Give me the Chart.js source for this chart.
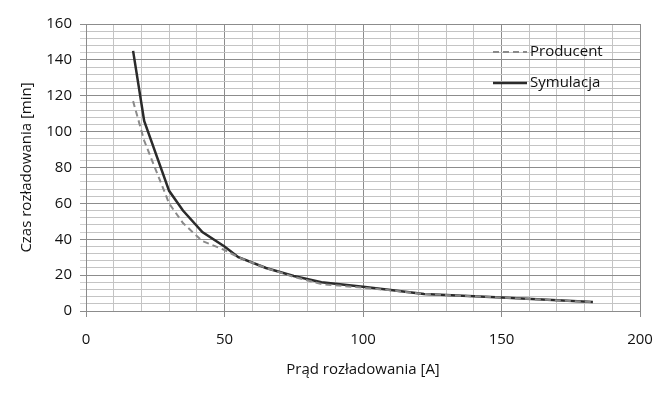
<!DOCTYPE html>
<html>
<head>
<meta charset="utf-8">
<script src="https://cdn.jsdelivr.net/npm/chart.js@4"></script>
<style>
  html, body { margin: 0; padding: 0; background: #fff; }
  #wrap { width: 667px; height: 397px; }
</style>
</head>
<body>
<div id="wrap"><canvas id="dischargeChart" width="667" height="397"></canvas></div>
<script>
const currentA = [17, 21, 30, 35, 42, 50, 55, 65, 75, 85, 100, 110, 122, 150, 183];
const producentMin = [117, 95, 60, 49, 39, 34, 30, 24, 19, 15, 13, 11.5, 9.5, 7.5, 5];
const symulacjaMin = [145, 106, 67, 56, 44, 36, 30, 24, 19.5, 16, 13.5, 11.7, 9.5, 7.5, 5];
const seriesNames = ['Producent', 'Symulacja'];

const font = 'Open Sans';
const toPoints = ys => currentA.map((x, i) => ({ x: x, y: ys[i] }));

// legend drawn inside the plot, on top of the grid (no box)
const innerLegend = {
  id: 'innerLegend',
  afterDraw(chart) {
    const c = chart.ctx;
    const a = chart.chartArea;
    c.save();
    c.font = '15px "' + font + '"';
    c.textBaseline = 'middle';
    chart.data.datasets.forEach((ds, i) => {
      const y = a.top + 28 + i * 31;
      const x0 = a.left + 407;
      c.strokeStyle = ds.borderColor;
      c.lineWidth = ds.borderWidth;
      c.setLineDash(ds.borderDash || []);
      c.beginPath();
      c.moveTo(x0, y);
      c.lineTo(x0 + 34, y);
      c.stroke();
      c.setLineDash([]);
      c.fillStyle = '#111';
      c.fillText(ds.label, x0 + 37, y);
    });
    c.restore();
  }
};

new Chart(document.getElementById('dischargeChart').getContext('2d'), {
  type: 'line',
  data: {
    datasets: [
      {
        label: seriesNames[0],
        data: toPoints(producentMin),
        borderColor: '#8a8a8a',
        borderWidth: 2,
        borderDash: [6, 4],
        pointRadius: 0,
        tension: 0
      },
      {
        label: seriesNames[1],
        data: toPoints(symulacjaMin),
        borderColor: '#2b2b2b',
        borderWidth: 2.5,
        pointRadius: 0,
        tension: 0
      }
    ]
  },
  options: {
    responsive: false,
    animation: false,
    layout: { padding: { left: 14, right: 27, top: 24, bottom: 14 } },
    plugins: { legend: { display: false }, tooltip: { enabled: false } },
    scales: {
      x: {
        type: 'linear',
        min: 0,
        max: 200,
        afterFit: s => { s.height = 72; },
        ticks: {
          stepSize: 10,
          autoSkip: false,
          maxRotation: 0,
          padding: 14,
          color: '#111',
          font: { family: font, size: 15 },
          callback: v => (v % 50 === 0 ? v : '')
        },
        grid: {
          color: c => (c.tick && c.tick.value % 50 === 0 ? '#8c8c8c' : '#c4c4c4'),
          tickColor: c => (c.tick && c.tick.value % 50 === 0 ? '#8c8c8c' : 'transparent'),
          tickLength: 6
        },
        border: { color: '#8c8c8c' },
        title: {
          display: true,
          text: 'Prąd rozładowania [A]',
          color: '#111',
          font: { family: font, size: 15 },
          padding: { top: 6 }
        }
      },
      y: {
        min: 0,
        max: 160,
        afterFit: s => { s.width = 72; },
        ticks: {
          stepSize: 4,
          autoSkip: false,
          padding: 8,
          color: '#111',
          font: { family: font, size: 15 },
          callback: v => (v % 20 === 0 ? v : '')
        },
        grid: {
          color: c => (c.tick && c.tick.value % 20 === 0 ? '#8c8c8c' : '#c4c4c4'),
          tickColor: c => (c.tick && c.tick.value % 20 === 0 ? '#8c8c8c' : '#d0d0d0'),
          tickLength: 6
        },
        border: { color: '#8c8c8c' },
        title: {
          display: true,
          text: 'Czas rozładowania [min]',
          color: '#111',
          font: { family: font, size: 15 },
          padding: { bottom: 4 }
        }
      }
    }
  },
  plugins: [innerLegend]
});
</script>
</body>
</html>
